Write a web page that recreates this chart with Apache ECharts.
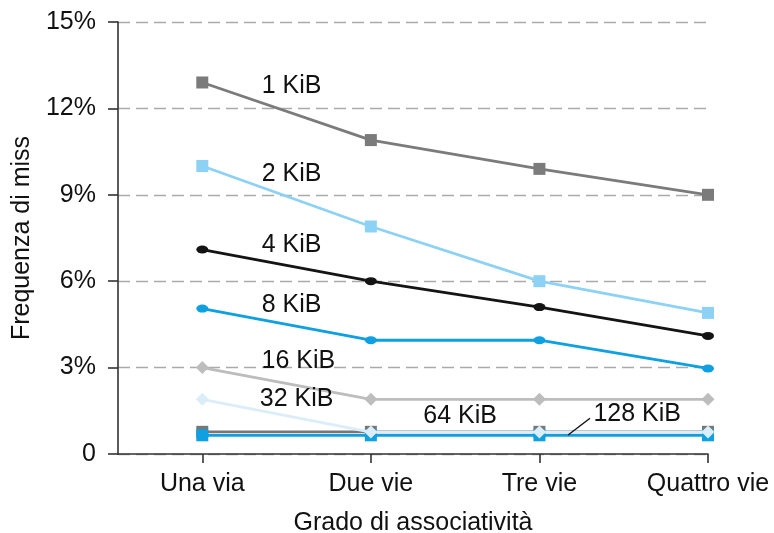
<!DOCTYPE html>
<html><head><meta charset="utf-8">
<script src="https://cdn.jsdelivr.net/npm/echarts@6/dist/echarts.min.js"></script>
<style>html,body{margin:0;padding:0;background:#fff}#c{width:774px;height:533px}</style>
</head><body><div id="c"></div>
<script>
const categories = ['Una via', 'Due vie', 'Tre vie', 'Quattro vie'];
const s1KiB   = [12.9, 10.9, 9.9, 9.0];
const s2KiB   = [10.0, 7.9, 6.0, 4.9];
const s4KiB   = [7.1, 6.0, 5.1, 4.1];
const s8KiB   = [5.05, 3.95, 3.95, 2.97];
const s16KiB  = [3.0, 1.9, 1.9, 1.9];
const s32KiB  = [1.9, 0.76, 0.76, 0.76];
const s64KiB  = [0.77, 0.77, 0.77, 0.77];
const s128KiB = [0.65, 0.65, 0.65, 0.65];
const yTicks = [0, 3, 6, 9, 12, 15];
const labelText = ['1 KiB', '2 KiB', '4 KiB', '8 KiB', '16 KiB', '32 KiB', '64 KiB', '128 KiB'];
const labelX = [0.53, 0.53, 0.53, 0.53, 0.57, 0.56, 1.53, 2.58];
const labelY = [12.79, 9.71, 7.25, 5.16, 3.21, 1.90, 1.31, 1.38];
const leaderLine = [[2.30, 1.24], [2.17, 0.66]];

const FONT = 'Liberation Sans';
const FS = 25;
const TXT = '#111111';
function pts(arr){ return arr.map((v,i)=>[i,v]); }
function line(name, data, color, symbol, size, z){
  return {name, type:'line', data:pts(data), symbol, symbolSize:size,
    lineStyle:{color, width:2.8}, itemStyle:{color}, z:z||2, silent:true, animation:false};
}
const chart = echarts.init(document.getElementById('c'), null, {renderer:'canvas'});
const ticks = categories.map((c,i)=>i);
const series = [
  line('1 KiB', s1KiB, '#7b7b7b', 'rect', 12),
  line('2 KiB', s2KiB, '#8dd2f4', 'rect', 12),
  line('4 KiB', s4KiB, '#141414', 'circle', [12,8]),
  line('8 KiB', s8KiB, '#0ea0e0', 'circle', [12,8]),
  line('16 KiB', s16KiB, '#bdbdbd', 'diamond', 13),
  line('64 KiB', s64KiB, '#777777', 'rect', 12, 2),
  line('128 KiB', s128KiB, '#0ea0e0', 'rect', 12, 3),
  line('32 KiB', s32KiB, '#dcedfa', 'diamond', 13, 4),
  {type:'scatter', data:labelText.map((t,i)=>({value:[labelX[i], labelY[i]], name:t})),
   symbolSize:0, silent:true, z:5, animation:false,
   label:{show:true, position:'inside', formatter:p=>p.name, fontFamily:FONT, fontSize:FS,
     color:TXT, textBorderWidth:0, opacity:1}},
  {type:'line', data:leaderLine, symbol:'none', lineStyle:{color:'#111', width:1.4}, z:5, silent:true, animation:false}
];
chart.setOption({
  animation:false,
  grid:{left:118, right:66, top:22, bottom:79, containLabel:false, outerBoundsMode:'none'},
  xAxis:{type:'value', min:-0.5, max:3,
    name:'Grado di associatività', nameLocation:'middle', nameGap:57,
    nameTextStyle:{fontFamily:FONT, fontSize:FS, color:TXT},
    axisLine:{show:true, onZero:false, lineStyle:{color:'#333', width:1.6}},
    axisTick:{show:true, length:9, customValues:ticks, lineStyle:{color:'#333', width:1.6}},
    axisLabel:{customValues:ticks, margin:18, fontFamily:FONT, fontSize:FS, color:TXT,
      formatter:v=>categories[Math.round(v)]},
    splitLine:{show:false}},
  yAxis:{type:'value', min:0, max:15, interval:3,
    name:'Frequenza di miss', nameLocation:'middle', nameGap:82, nameRotate:90,
    nameTextStyle:{fontFamily:FONT, fontSize:FS, color:TXT},
    axisLine:{show:true, onZero:false, lineStyle:{color:'#333', width:1.6}},
    axisTick:{show:true, length:10, lineStyle:{color:'#333', width:1.6}},
    axisLabel:{margin:22, fontFamily:FONT, fontSize:FS, color:TXT,
      formatter:v=>yTicks.includes(v) ? (v===0 ? '0' : v+'%') : ''},
    splitLine:{show:true, lineStyle:{color:'#aaaaaa', width:1.4, type:[12,6]}}},
  series
});
</script></body></html>
